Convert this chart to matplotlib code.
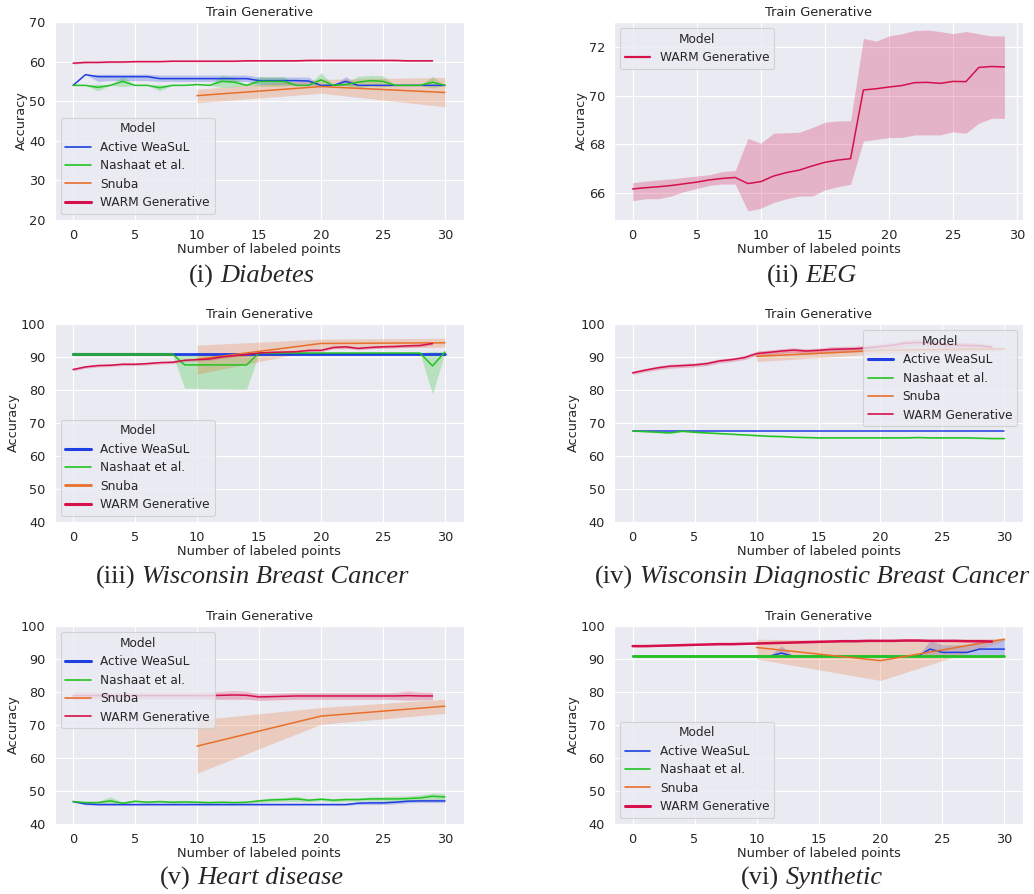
import matplotlib
matplotlib.use("Agg")
import matplotlib.pyplot as plt
import seaborn as sns
from matplotlib.lines import Line2D

# ---------------- data ----------------
X_FULL = [0, 1, 2, 3, 4, 5, 6, 7, 8, 9, 10, 11, 12, 13, 14, 15, 16, 17, 18, 19, 20,
          21, 22, 23, 24, 25, 26, 27, 28, 29, 30]
X_WARM = [0, 1, 2, 3, 4, 5, 6, 7, 8, 9, 10, 11, 12, 13, 14, 15, 16, 17, 18, 19, 20,
          21, 22, 23, 24, 25, 26, 27, 28, 29]
X_SNUBA = [10, 20, 30]

MODELS = ["Active WeaSuL", "Nashaat et al.", "Snuba", "WARM Generative"]
COLORS = ["#1f3fe0", "#22c322", "#e8702a", "#d5104b"]

# (i) Diabetes
diab_active = [54.0, 56.7, 56.2, 56.2, 56.2, 56.2, 56.2, 55.7, 55.7, 55.7, 55.7, 55.7, 55.7, 55.7, 55.7, 55.2,
               55.2, 55.2, 55.2, 55.1, 54.0, 54.0, 55.0, 54.0, 54.0, 54.0, 54.0, 54.0, 54.0, 54.0, 54.0]
diab_active_lo = [54.0, 56.7, 55.0, 55.2, 55.2, 55.2, 55.2, 55.0, 55.0, 55.0, 55.0, 55.0, 55.0, 55.0, 55.0, 54.2,
                  54.2, 54.2, 54.2, 54.2, 54.0, 54.0, 54.0, 54.0, 54.0, 54.0, 54.0, 54.0, 54.0, 54.0, 54.0]
diab_active_hi = [54.0, 56.7, 56.8, 56.8, 56.8, 56.8, 56.8, 56.6, 56.6, 56.6, 56.6, 56.6, 56.6, 56.6, 56.6, 56.1,
                  56.1, 56.1, 56.1, 56.1, 54.0, 54.0, 56.2, 54.0, 54.0, 54.0, 54.0, 54.0, 54.0, 54.0, 54.0]
diab_nash = [54.0, 54.0, 53.5, 54.0, 55.0, 54.0, 54.0, 53.4, 54.0, 54.0, 54.2, 54.0, 55.0, 54.8, 54.0, 55.0,
             55.0, 55.0, 54.0, 54.0, 55.4, 54.0, 54.2, 54.8, 55.2, 55.0, 54.0, 54.0, 54.0, 54.8, 54.0]
diab_nash_err = [0.0, 0.0, 0.9, 0.0, 1.3, 0.0, 0.0, 0.8, 0.0, 0.0, 0.0, 0.0, 1.5, 1.2, 0.0, 1.2,
                 1.2, 1.2, 0.0, 0.0, 1.8, 0.0, 0.3, 1.5, 1.3, 1.4, 0.0, 0.0, 0.0, 1.5, 0.0]
diab_snuba = [51.4, 53.7, 52.2]
diab_snuba_lo = [49.6, 52.0, 48.6]
diab_snuba_hi = [53.0, 55.5, 56.0]
diab_warm = [59.6, 59.8, 59.8, 59.9, 59.9, 60.0, 60.0, 60.0, 60.1, 60.1, 60.1, 60.1, 60.1, 60.1, 60.2,
             60.2, 60.2, 60.2, 60.2, 60.3, 60.3, 60.3, 60.3, 60.3, 60.3, 60.3, 60.3, 60.2, 60.2, 60.2]
diab_warm_err = [0.2, 0.2, 0.2, 0.2, 0.2, 0.2, 0.2, 0.2, 0.2, 0.2, 0.2, 0.2, 0.2, 0.2, 0.2,
                 0.2, 0.2, 0.2, 0.2, 0.2, 0.2, 0.2, 0.2, 0.2, 0.2, 0.2, 0.2, 0.2, 0.2, 0.2]

# (ii) EEG
eeg_warm = [66.18, 66.23, 66.27, 66.32, 66.39, 66.46, 66.55, 66.61, 66.65, 66.40, 66.48, 66.71, 66.85, 66.95,
            67.12, 67.27, 67.36, 67.42, 70.23, 70.28, 70.35, 70.41, 70.53, 70.54, 70.50, 70.58, 70.57, 71.15,
            71.19, 71.17]
eeg_warm_lo = [65.70, 65.78, 65.78, 65.89, 66.07, 66.20, 66.33, 66.38, 66.38, 65.28, 65.39, 65.63, 65.78, 65.89,
               65.89, 66.14, 66.27, 66.37, 68.14, 68.21, 68.28, 68.29, 68.39, 68.39, 68.39, 68.52, 68.46, 68.87,
               69.07, 69.07]
eeg_warm_hi = [66.44, 66.50, 66.55, 66.59, 66.65, 66.71, 66.76, 66.89, 66.93, 68.25, 68.05, 68.46, 68.48, 68.50,
               68.69, 68.91, 68.96, 68.97, 72.34, 72.23, 72.44, 72.53, 72.66, 72.68, 72.62, 72.53, 72.62, 72.53,
               72.44, 72.44]

# (iii) Wisconsin Breast Cancer
wbc_active = [91.0, 91.0, 91.0, 91.0, 91.0, 91.0, 91.0, 91.0, 91.0, 91.0, 91.0, 91.0, 91.0, 91.0, 91.0, 91.0,
              91.0, 91.0, 91.0, 91.0, 91.0, 91.0, 91.0, 91.0, 91.0, 91.0, 91.0, 91.0, 91.0, 91.0, 91.0]
wbc_nash = [91.0, 91.0, 91.0, 91.0, 91.0, 91.0, 91.0, 91.0, 91.0, 87.6, 87.6, 87.6, 87.6, 87.6, 87.6, 91.2,
            91.2, 91.2, 91.2, 91.2, 91.2, 91.2, 91.2, 91.2, 91.2, 91.2, 91.2, 91.2, 91.2, 87.3, 91.5]
wbc_nash_lo = [91.0, 91.0, 91.0, 91.0, 91.0, 91.0, 91.0, 91.0, 91.0, 80.6, 80.5, 80.4, 80.4, 80.3, 80.3, 91.0,
               91.0, 91.0, 91.0, 91.0, 91.0, 91.0, 91.0, 91.0, 91.0, 91.0, 91.0, 91.0, 91.0, 78.8, 91.3]
wbc_nash_hi = [91.0, 91.0, 91.0, 91.0, 91.0, 91.0, 91.0, 91.0, 91.0, 91.0, 91.0, 91.0, 91.0, 91.0, 91.0, 91.4,
               91.4, 91.4, 91.4, 91.4, 91.4, 91.4, 91.4, 91.4, 91.4, 91.4, 91.4, 91.4, 91.4, 91.7, 91.7]
wbc_snuba = [89.3, 94.1, 94.3]
wbc_snuba_lo = [84.8, 92.4, 93.0]
wbc_snuba_hi = [93.6, 95.4, 95.7]
wbc_warm = [86.2, 87.0, 87.4, 87.5, 87.8, 87.8, 88.0, 88.3, 88.4, 89.0, 89.2, 89.4, 90.0, 90.4, 90.7, 91.2,
            91.4, 91.5, 91.6, 92.0, 92.0, 92.9, 93.1, 92.6, 92.9, 93.1, 93.2, 93.4, 93.5, 94.1]
wbc_warm_err = [0.4, 0.4, 0.4, 0.4, 0.4, 0.4, 0.4, 0.4, 0.4, 0.4, 0.4, 0.4, 0.4, 0.4, 0.4,
                0.4, 0.4, 0.4, 0.4, 0.4, 0.4, 0.4, 0.4, 0.4, 0.4, 0.4, 0.4, 0.4, 0.4, 0.4]

# (iv) Wisconsin Diagnostic Breast Cancer
wdbc_active = [67.7, 67.7, 67.7, 67.7, 67.7, 67.7, 67.7, 67.7, 67.7, 67.7, 67.7, 67.7, 67.7, 67.7, 67.7, 67.7,
               67.7, 67.7, 67.7, 67.7, 67.7, 67.7, 67.7, 67.7, 67.7, 67.7, 67.7, 67.7, 67.7, 67.7, 67.7]
wdbc_nash = [67.6, 67.4, 67.2, 67.0, 67.5, 67.2, 67.0, 66.8, 66.6, 66.4, 66.2, 66.0, 65.9, 65.7, 65.6, 65.5,
             65.5, 65.5, 65.5, 65.5, 65.5, 65.5, 65.5, 65.6, 65.5, 65.5, 65.5, 65.5, 65.4, 65.3, 65.3]
wdbc_nash_err = [0.2, 0.2, 0.2, 0.2, 0.2, 0.2, 0.2, 0.2, 0.2, 0.2, 0.2, 0.2, 0.2, 0.2, 0.2, 0.2,
                 0.2, 0.2, 0.2, 0.2, 0.2, 0.2, 0.2, 0.2, 0.2, 0.2, 0.2, 0.2, 0.2, 0.2, 0.2]
wdbc_snuba = [90.2, 92.0, 92.5]
wdbc_snuba_lo = [88.6, 91.0, 92.0]
wdbc_snuba_hi = [91.8, 93.0, 93.0]
wdbc_warm = [85.2, 86.0, 86.7, 87.2, 87.4, 87.6, 88.0, 88.8, 89.2, 89.8, 91.0, 91.4, 91.8, 92.1, 91.8, 92.0,
             92.3, 92.4, 92.5, 92.8, 93.2, 93.6, 94.2, 94.4, 94.2, 93.8, 93.6, 93.5, 93.4, 93.0]
wdbc_warm_err = [0.5, 0.5, 0.6, 0.6, 0.6, 0.6, 0.6, 0.6, 0.6, 0.6, 0.7, 0.7, 0.7, 0.7, 0.7,
                 0.7, 0.8, 0.8, 0.8, 0.8, 0.9, 0.9, 1.0, 1.0, 1.0, 1.0, 0.9, 0.9, 0.8, 0.8]

# (v) Heart disease
heart_active = [46.8, 46.1, 45.9, 45.9, 45.9, 45.9, 45.9, 45.9, 45.9, 45.9, 45.9, 45.9, 45.9, 45.9, 45.9, 45.9,
                45.9, 45.9, 45.9, 45.9, 45.9, 45.9, 45.9, 46.3, 46.4, 46.4, 46.6, 46.9, 47.0, 47.0, 47.0]
heart_active_err = [0.2, 0.3, 0.3, 0.3, 0.3, 0.3, 0.3, 0.3, 0.3, 0.3, 0.3, 0.3, 0.3, 0.3, 0.3, 0.3,
                    0.3, 0.3, 0.3, 0.3, 0.3, 0.3, 0.3, 0.4, 0.5, 0.5, 0.5, 0.5, 0.5, 0.5, 0.5]
heart_nash = [46.8, 46.5, 46.5, 47.0, 46.3, 46.9, 46.6, 46.8, 46.6, 46.7, 46.6, 46.5, 46.6, 46.5, 46.6, 47.0,
              47.3, 47.4, 47.6, 47.2, 47.5, 47.2, 47.4, 47.4, 47.6, 47.6, 47.6, 47.7, 47.9, 48.4, 48.2]
heart_nash_err = [0.2, 0.3, 0.3, 1.2, 0.3, 0.3, 0.3, 0.3, 0.3, 0.3, 0.3, 0.3, 0.3, 0.3, 0.3, 0.5,
                  0.6, 0.6, 0.8, 0.5, 0.5, 0.5, 0.5, 0.5, 0.6, 0.7, 0.8, 0.8, 0.9, 1.0, 1.0]
heart_snuba = [63.6, 72.7, 75.7]
heart_snuba_lo = [55.4, 70.2, 73.5]
heart_snuba_hi = [71.5, 75.3, 77.8]
heart_warm = [78.9, 78.9, 78.9, 78.9, 78.9, 78.9, 78.9, 78.9, 78.9, 78.9, 78.9, 78.9, 79.0, 79.1, 79.0, 78.5,
              78.6, 78.7, 78.8, 78.8, 78.8, 78.8, 78.8, 78.8, 78.8, 78.8, 78.8, 78.9, 78.8, 78.8]
heart_warm_err = [1.2, 1.1, 1.0, 1.0, 1.0, 1.0, 1.0, 1.0, 1.0, 1.0, 1.0, 1.1, 1.2, 1.3, 1.2, 1.0,
                  1.0, 1.0, 1.0, 1.0, 1.0, 1.0, 1.0, 1.0, 1.0, 1.0, 1.1, 1.4, 1.2, 1.1]

# (vi) Synthetic
syn_active = [90.8, 90.8, 90.8, 90.8, 90.8, 90.8, 90.8, 90.8, 90.8, 90.8, 90.8, 90.8, 91.8, 90.8, 90.8, 90.8,
              90.8, 90.8, 90.8, 90.8, 90.8, 90.8, 90.8, 90.8, 93.0, 92.0, 92.0, 92.0, 93.0, 93.0, 93.0]
syn_active_lo = [90.8, 90.8, 90.8, 90.8, 90.8, 90.8, 90.8, 90.8, 90.8, 90.8, 90.8, 90.8, 90.8, 90.8, 90.8, 90.8,
                 90.8, 90.8, 90.8, 90.8, 90.8, 90.8, 90.8, 90.8, 90.8, 90.8, 90.8, 90.8, 91.0, 91.0, 90.8]
syn_active_hi = [90.8, 90.8, 90.8, 90.8, 90.8, 90.8, 90.8, 90.8, 90.8, 90.8, 90.8, 90.8, 94.0, 90.8, 90.8, 90.8,
                 90.8, 90.8, 90.8, 90.8, 90.8, 90.8, 90.8, 90.8, 95.6, 94.3, 94.3, 94.5, 95.5, 95.8, 96.0]
syn_nash = [90.8, 90.8, 90.8, 90.8, 90.8, 90.8, 90.8, 90.8, 90.8, 90.8, 90.8, 90.8, 90.8, 90.8, 90.8, 90.8,
            90.8, 90.8, 90.8, 90.8, 90.8, 90.8, 90.8, 90.8, 90.8, 90.8, 90.8, 90.8, 90.8, 90.8, 90.8]
syn_snuba = [93.5, 89.5, 96.0]
syn_snuba_lo = [90.0, 83.5, 95.5]
syn_snuba_hi = [96.0, 95.5, 96.3]
syn_warm = [93.9, 93.9, 94.0, 94.1, 94.2, 94.3, 94.4, 94.5, 94.5, 94.6, 94.7, 94.8, 94.9, 95.0, 95.1, 95.2,
            95.3, 95.4, 95.4, 95.5, 95.5, 95.5, 95.6, 95.6, 95.5, 95.5, 95.5, 95.4, 95.4, 95.3]
syn_warm_err = [0.2, 0.2, 0.2, 0.2, 0.2, 0.2, 0.2, 0.2, 0.2, 0.2, 0.2, 0.2, 0.2, 0.2, 0.2,
                0.2, 0.2, 0.2, 0.2, 0.2, 0.2, 0.2, 0.2, 0.2, 0.2, 0.2, 0.2, 0.2, 0.2, 0.2]

CAPTIONS = [("(i)", "Diabetes"), ("(ii)", "EEG"), ("(iii)", "Wisconsin Breast Cancer"),
            ("(iv)", "Wisconsin Diagnostic Breast Cancer"), ("(v)", "Heart disease"), ("(vi)", "Synthetic")]

# ---------------- styling ----------------
sns.set_style("darkgrid")
plt.rcParams["font.family"] = ["DejaVu Sans"]
FS = 9.3
LFS = 8.7

W, H = 1034, 894
fig = plt.figure(figsize=(W / 100, H / 100), dpi=100)

AX_W, AX_H = 409, 198
LEFTS = [54.5, 614]
TOPS = [22, 324, 626]


def make_ax(row, col):
    l = LEFTS[col]
    t = TOPS[row]
    return fig.add_axes([l / W, 1 - (t + AX_H) / H, AX_W / W, AX_H / H])


def band(ax, x, lo, hi, color, alpha=0.25):
    ax.fill_between(x, lo, hi, color=color, alpha=alpha, linewidth=0)


def sym(mean, err):
    return [m - e for m, e in zip(mean, err)], [m + e for m, e in zip(mean, err)]


def finish(ax, ylim, yticks, xlim=(-1.5, 31.5)):
    ax.set_xlim(*xlim)
    ax.set_ylim(*ylim)
    ax.set_xticks([0, 5, 10, 15, 20, 25, 30])
    ax.set_yticks(yticks)
    ax.tick_params(labelsize=FS, pad=3)
    ax.set_xlabel("Number of labeled points", fontsize=FS, labelpad=1.0)
    ax.set_ylabel("Accuracy", fontsize=FS, labelpad=0.5)
    ax.set_title("Train Generative", fontsize=FS, pad=4)


def legend(ax, idxs, loc, lws):
    handles = [Line2D([0], [0], color=COLORS[i], lw=lw) for i, lw in zip(idxs, lws)]
    lg = ax.legend(handles, [MODELS[i] for i in idxs], title="Model", loc=loc,
                   fontsize=LFS, title_fontsize=LFS, frameon=True, facecolor="#EAEAF2",
                   edgecolor="#cccccc", framealpha=0.8, handlelength=2.1, borderpad=0.4,
                   labelspacing=0.45)
    lg.get_frame().set_linewidth(0.8)
    return lg


LW = 1.1
BLUE, GREEN, ORANGE, RED = COLORS

# (i) Diabetes
ax = make_ax(0, 0)
band(ax, X_FULL, diab_active_lo, diab_active_hi, BLUE)
ax.plot(X_FULL, diab_active, color=BLUE, lw=LW)
lo, hi = sym(diab_nash, diab_nash_err)
band(ax, X_FULL, lo, hi, GREEN)
ax.plot(X_FULL, diab_nash, color=GREEN, lw=LW)
band(ax, X_SNUBA, diab_snuba_lo, diab_snuba_hi, ORANGE)
ax.plot(X_SNUBA, diab_snuba, color=ORANGE, lw=LW)
lo, hi = sym(diab_warm, diab_warm_err)
band(ax, X_WARM, lo, hi, RED)
ax.plot(X_WARM, diab_warm, color=RED, lw=LW)
finish(ax, (20, 70), [20, 30, 40, 50, 60, 70])
legend(ax, [0, 1, 2, 3], "lower left", [1.2, 1.2, 1.2, 2.2])

# (ii) EEG
ax = make_ax(0, 1)
band(ax, X_WARM, eeg_warm_lo, eeg_warm_hi, RED)
ax.plot(X_WARM, eeg_warm, color=RED, lw=LW)
finish(ax, (64.91, 73.01), [66, 68, 70, 72], xlim=(-1.45, 30.45))
legend(ax, [3], "upper left", [1.6])

# (iii) Wisconsin Breast Cancer
ax = make_ax(1, 0)
ax.plot(X_FULL, wbc_active, color=BLUE, lw=2.0)
band(ax, X_FULL, wbc_nash_lo, wbc_nash_hi, GREEN)
ax.plot(X_FULL, wbc_nash, color=GREEN, lw=LW)
ax.plot(X_FULL[:9], wbc_nash[:9], color="#2ca048", lw=2.2)
band(ax, X_SNUBA, wbc_snuba_lo, wbc_snuba_hi, ORANGE)
ax.plot(X_SNUBA, wbc_snuba, color=ORANGE, lw=LW)
lo, hi = sym(wbc_warm, wbc_warm_err)
band(ax, X_WARM, lo, hi, RED)
ax.plot(X_WARM, wbc_warm, color=RED, lw=LW)
finish(ax, (40, 100), [40, 50, 60, 70, 80, 90, 100])
legend(ax, [0, 1, 2, 3], "lower left", [2.2, 1.2, 2.0, 2.2])

# (iv) Wisconsin Diagnostic Breast Cancer
ax = make_ax(1, 1)
ax.plot(X_FULL, wdbc_active, color=BLUE, lw=LW)
lo, hi = sym(wdbc_nash, wdbc_nash_err)
band(ax, X_FULL, lo, hi, GREEN)
ax.plot(X_FULL, wdbc_nash, color=GREEN, lw=LW)
band(ax, X_SNUBA, wdbc_snuba_lo, wdbc_snuba_hi, ORANGE)
ax.plot(X_SNUBA, wdbc_snuba, color=ORANGE, lw=LW)
lo, hi = sym(wdbc_warm, wdbc_warm_err)
band(ax, X_WARM, lo, hi, RED)
ax.plot(X_WARM, wdbc_warm, color=RED, lw=LW)
finish(ax, (40, 100), [40, 50, 60, 70, 80, 90, 100])
legend(ax, [0, 1, 2, 3], "upper right", [2.2, 1.2, 1.2, 1.2])

# (v) Heart disease
ax = make_ax(2, 0)
lo, hi = sym(heart_active, heart_active_err)
band(ax, X_FULL, lo, hi, BLUE)
ax.plot(X_FULL, heart_active, color=BLUE, lw=LW)
lo, hi = sym(heart_nash, heart_nash_err)
band(ax, X_FULL, lo, hi, GREEN)
ax.plot(X_FULL, heart_nash, color=GREEN, lw=LW)
band(ax, X_SNUBA, heart_snuba_lo, heart_snuba_hi, ORANGE)
ax.plot(X_SNUBA, heart_snuba, color=ORANGE, lw=LW)
lo, hi = sym(heart_warm, heart_warm_err)
band(ax, X_WARM, lo, hi, RED)
ax.plot(X_WARM, heart_warm, color=RED, lw=LW)
finish(ax, (40, 100), [40, 50, 60, 70, 80, 90, 100])
legend(ax, [0, 1, 2, 3], "upper left", [2.2, 1.2, 1.2, 1.2])

# (vi) Synthetic
ax = make_ax(2, 1)
band(ax, X_FULL, syn_active_lo, syn_active_hi, BLUE)
ax.plot(X_FULL, syn_active, color=BLUE, lw=LW)
ax.plot(X_FULL, syn_nash, color=GREEN, lw=2.0)
band(ax, X_SNUBA, syn_snuba_lo, syn_snuba_hi, ORANGE)
ax.plot(X_SNUBA, syn_snuba, color=ORANGE, lw=LW)
lo, hi = sym(syn_warm, syn_warm_err)
band(ax, X_WARM, lo, hi, RED)
ax.plot(X_WARM, syn_warm, color=RED, lw=1.8)
finish(ax, (40, 100), [40, 50, 60, 70, 80, 90, 100])
legend(ax, [0, 1, 2, 3], "lower left", [1.2, 1.2, 1.2, 2.2])

# ---------------- captions ----------------
renderer = fig.canvas.get_renderer()
CAP_X = [252, 812]
CAP_Y = [276, 577, 878]
CAP_FS = 19
for k, (pre, name) in enumerate(CAPTIONS):
    r, c = divmod(k, 2)
    t1 = fig.text(0, 0, pre, family="Liberation Serif", fontsize=CAP_FS, va="center", ha="left")
    t2 = fig.text(0, 0, name, family="Liberation Serif", style="italic", fontsize=CAP_FS,
                  va="center", ha="left")
    w1 = t1.get_window_extent(renderer).width
    w2 = t2.get_window_extent(renderer).width
    gap = CAP_FS * 100 / 72 * 0.25
    x0 = CAP_X[c] - (w1 + gap + w2) / 2
    yf = 1 - CAP_Y[r] / H
    t1.set_position((x0 / W, yf))
    t2.set_position(((x0 + w1 + gap) / W, yf))

fig.savefig("out.png", dpi=100)
